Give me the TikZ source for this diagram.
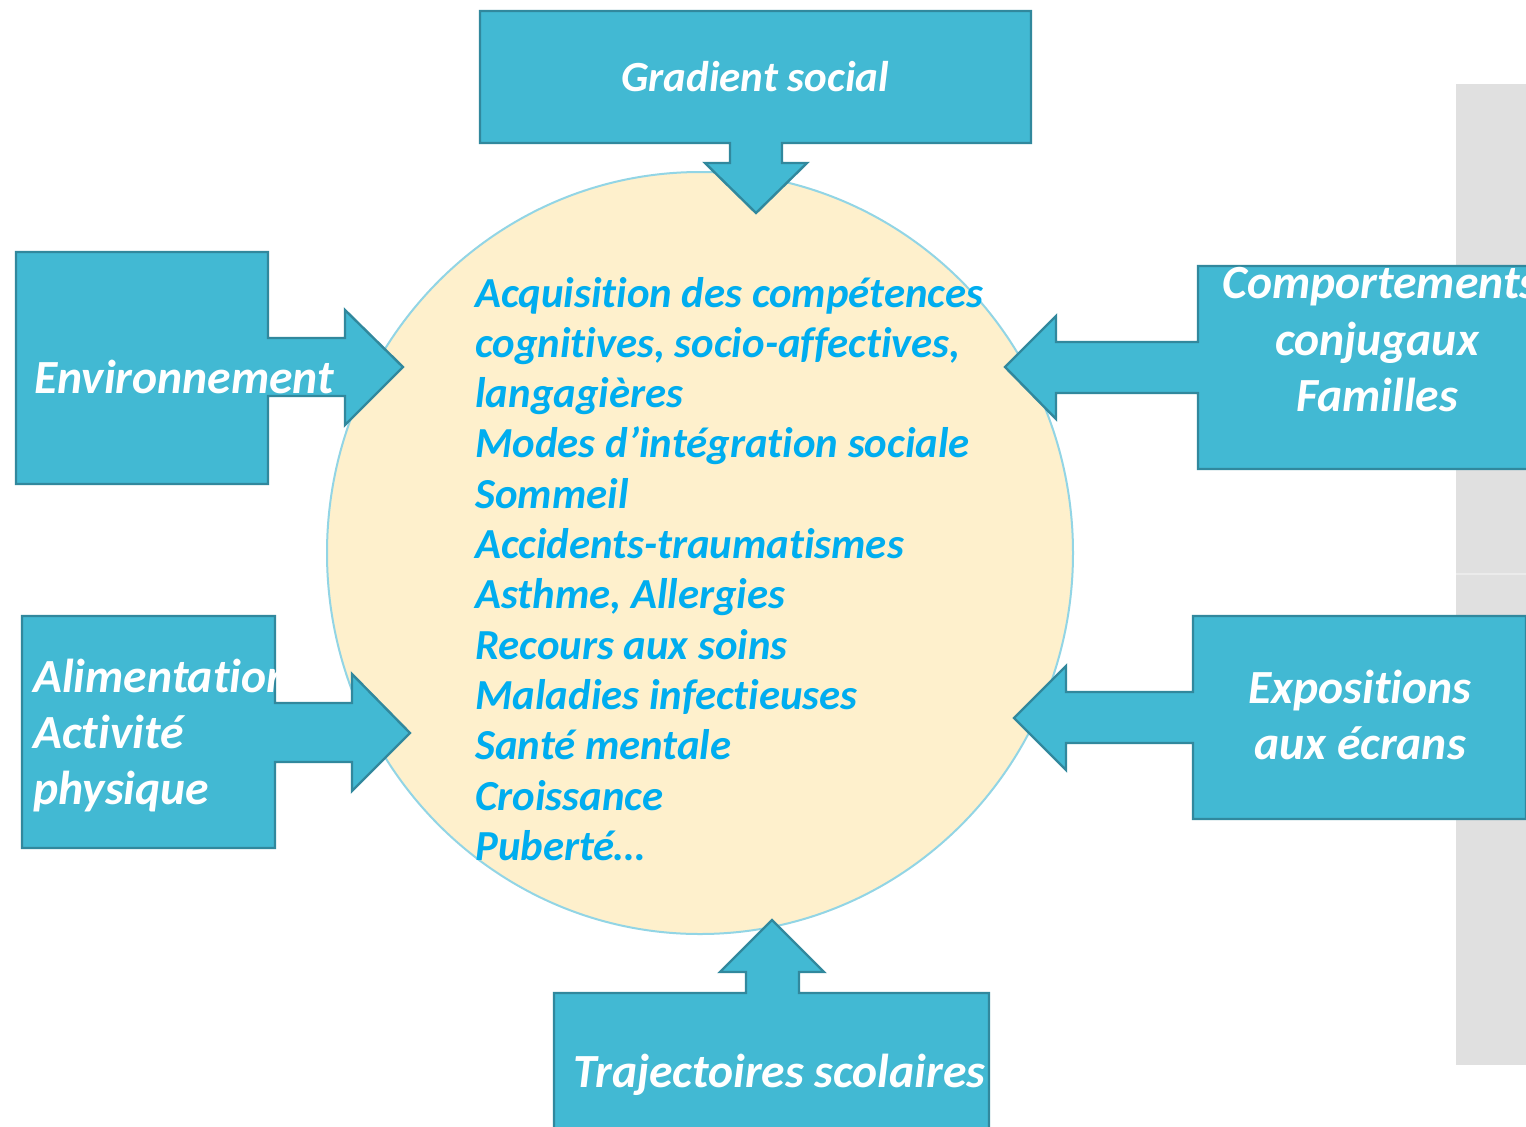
\documentclass[tikz,border=0pt]{standalone}
\usepackage{fontspec}
\setmainfont{Carlito}[Ligatures={NoCommon}]
\definecolor{boxfill}{HTML}{42B9D3}
\definecolor{boxline}{HTML}{31889D}
\definecolor{circfill}{HTML}{FEF0CC}
\definecolor{circline}{HTML}{92D5E5}
\definecolor{txtblue}{HTML}{00ADEF}
\definecolor{panel}{HTML}{E0E0E0}
\definecolor{panelline}{HTML}{EBEBEB}
\tikzset{
  callout/.style={fill=boxfill, draw=boxline, line width=1.2pt, line join=miter},
  boxtxt/.style={text=white, font=\bfseries\itshape\fontsize{23.8}{28}\selectfont, inner sep=0pt},
  circtxt/.style={text=txtblue, font=\bfseries\itshape\fontsize{21.4}{25.2}\selectfont, inner sep=0pt, anchor=base west},
}
\begin{document}
\begin{tikzpicture}[x=0.5pt,y=-0.5pt]
\clip (0,0) rectangle (1526,1126);
\fill[white] (0,0) rectangle (1526,1126);
% grey panel
\fill[panel] (1456,84) rectangle (1526,1065);
\draw[panelline, line width=0.8pt] (1456,574) -- (1526,574);
% central ellipse
\draw[fill=circfill, draw=circline, line width=1pt] (700,553) ellipse [x radius=373, y radius=381];
% Gradient social (down arrow)
\draw[callout] (480,11) -- (1031,11) -- (1031,143) -- (782,143) -- (782,163) -- (807,163) -- (756,213)
  -- (705,163) -- (730,163) -- (730,143) -- (480,143) -- cycle;
% Environnement (right arrow)
\draw[callout] (16,252) -- (268,252) -- (268,338) -- (345,338) -- (345,310) -- (403,367) -- (345,425)
  -- (345,396) -- (268,396) -- (268,484) -- (16,484) -- cycle;
% Alimentation (right arrow)
\draw[callout] (22,616) -- (275,616) -- (275,703) -- (352,703) -- (352,674) -- (410,733) -- (352,791)
  -- (352,762) -- (275,762) -- (275,848) -- (22,848) -- cycle;
% Comportements (left arrow)
\draw[callout] (1540,266) -- (1198,266) -- (1198,342) -- (1056,342) -- (1056,316) -- (1005,367) -- (1056,419)
  -- (1056,393) -- (1198,393) -- (1198,469) -- (1540,469) -- cycle;
% Expositions (left arrow)
\draw[callout] (1526,616) -- (1193,616) -- (1193,692) -- (1066,692) -- (1066,666) -- (1014,718) -- (1066,770)
  -- (1066,743) -- (1193,743) -- (1193,819) -- (1526,819) -- cycle;
% Trajectoires (up arrow)
\draw[callout] (554,1140) -- (554,993) -- (746,993) -- (746,972) -- (720,972) -- (772,920) -- (824,972)
  -- (799,972) -- (799,993) -- (989,993) -- (989,1140) -- cycle;
% box texts
\node[boxtxt, font=\bfseries\itshape\fontsize{21.5}{26}\selectfont, anchor=base] (grad) at (755,91) {Gradient social};
\node[boxtxt, anchor=base west] (env) at (34,393) {Environnement};
\node[boxtxt, anchor=base west] (ali1) at (33,692) {Alimentation};
\node[boxtxt, anchor=base west] (ali2) at (33,748) {Activité};
\node[boxtxt, anchor=base west] (ali3) at (33,804) {physique};
\node[boxtxt, anchor=base west] (comp1) at (1222,298) {Comportements};
\node[boxtxt, anchor=base] (comp2) at (1377,355) {conjugaux};
\node[boxtxt, anchor=base] (comp3) at (1377,411) {Familles};
\node[boxtxt, anchor=base] (expo1) at (1360,703) {Expositions};
\node[boxtxt, anchor=base] (expo2) at (1360,759) {aux écrans};
\node[boxtxt, anchor=base west] (traj) at (573,1087) {Trajectoires scolaires};
% circle texts
\foreach \t [count=\i] in {Acquisition des compétences,{cognitives, socio-affectives,},langagières,Modes d’intégration sociale,Sommeil,Accidents-traumatismes,{Asthme, Allergies},Recours aux soins,Maladies infectieuses,Santé mentale,Croissance,Puberté…}
  \node[circtxt] (line\i) at (475,{307+50.3*(\i-1)}) {\t};
\end{tikzpicture}
\end{document}
